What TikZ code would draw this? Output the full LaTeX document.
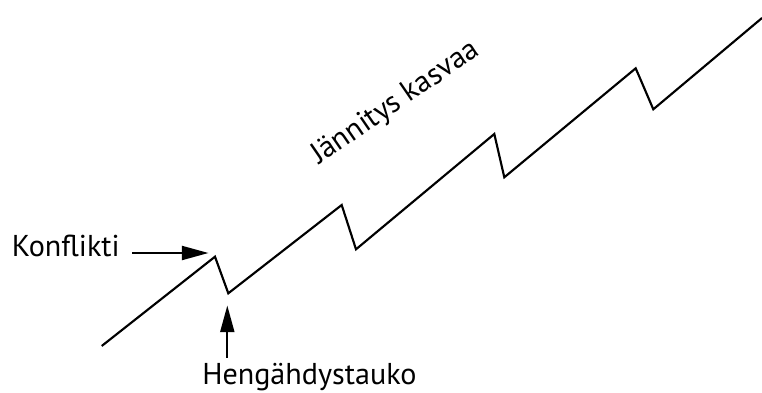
\documentclass[tikz,border=0pt]{standalone}
\usepackage{fontspec}
\setmainfont{PT Sans}
\usetikzlibrary{arrows.meta,positioning,calc}
\tikzset{
    lbl/.style={
        inner sep=0pt,
        font=\fontsize{22.6}{26}\selectfont
    },
    zig/.style={
        line width=1.6pt,
        line join=miter
    },
    flow/.style={-{Triangle[length=20pt,width=10.5pt]}, line width=1.6pt}
}

\begin{document}
\begin{tikzpicture}[x=0.75pt,y=-0.75pt]
        \useasboundingbox (0,0) rectangle (762,392);
        % rising line with its pauses
        \coordinate (s) at (101.7,346);
        \coordinate (p1) at (215,256.7);
        \coordinate (t1) at (228.3,293.3);
        \coordinate (p2) at (341.7,205);
        \coordinate (t2) at (356,249.3);
        \coordinate (p3) at (494.3,134);
        \coordinate (t3) at (504.3,177.3);
        \coordinate (p4) at (635.7,68.3);
        \coordinate (t4) at (653.3,109.3);
        \coordinate (e) at (762,18);
        \draw[zig] (s) -- (p1) -- (t1) -- (p2) -- (t2) -- (p3) -- (t3) -- (p4) -- (t4) -- (e);
        \node[lbl, anchor=mid east] (konf) at (120,253) {Konflikti};
        \node[lbl, anchor=base west] (heng) at (202,384) {Hengähdystauko};
        \node[lbl, rotate=34.5] (jann) at (396,103) {Jännitys kasvaa};
        \coordinate (konftip) at (208.5,253);
        \coordinate (hengtip) at (227.3,305.5);
        \draw[flow] ($(konf.mid east)+(12,0)$) -- (konftip);
        \draw[flow] ($(hengtip |- heng.north)+(0,-5)$) -- (hengtip);
    \end{tikzpicture}
\end{document}
